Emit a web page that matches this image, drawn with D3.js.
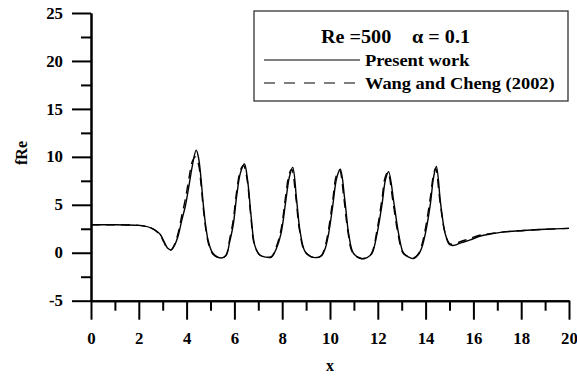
<!DOCTYPE html>
<html>
<head>
<meta charset="utf-8">
<script src="https://cdn.jsdelivr.net/npm/d3@7"></script>
<style>
  body { margin: 0; background: #fff; }
  text { font-family: "Liberation Serif", "Times New Roman", serif; font-weight: bold; fill: #000; }
  .axis path, .axis line { stroke: #000; stroke-width: 2; }
</style>
</head>
<body>
<div id="chart"></div>
<script>
// x positions and fRe values
const presentX = [0, 1.0, 1.5, 2.0, 2.3, 2.5, 2.7, 2.9, 3.05, 3.2, 3.35, 3.5, 3.65, 3.8, 3.95, 4.1, 4.25, 4.4, 4.5, 4.6, 4.7, 4.8, 4.9, 5.05, 5.2, 5.45, 5.65, 5.8, 5.95, 6.1, 6.25, 6.42, 6.55, 6.7, 6.85, 7.05, 7.3, 7.55, 7.75, 7.95, 8.15, 8.3, 8.44, 8.6, 8.75, 8.95, 9.2, 9.45, 9.65, 9.8, 9.95, 10.12, 10.28, 10.43, 10.62, 10.78, 10.98, 11.3, 11.55, 11.75, 11.97, 12.18, 12.32, 12.45, 12.68, 12.87, 13.08, 13.3, 13.5, 13.7, 13.85, 13.99, 14.2, 14.33, 14.45, 14.63, 14.82, 15.0, 15.15, 15.5, 15.87, 16.3, 16.7, 17.2, 18.1, 19.0, 20.0];
const presentY = [2.92, 2.92, 2.9, 2.85, 2.75, 2.6, 2.35, 1.9, 1.2, 0.5, 0.3, 0.8, 1.8, 3.4, 4.9, 7.0, 9.2, 10.7, 9.9, 7.8, 5.0, 2.8, 1.3, 0.15, -0.3, -0.55, -0.3, 1.1, 2.9, 6.0, 8.3, 9.25, 7.6, 3.8, 0.8, -0.2, -0.45, -0.45, 0.4, 2.0, 5.4, 7.9, 8.9, 5.6, 2.2, 0.15, -0.4, -0.5, -0.3, 0.45, 2.1, 5.0, 7.8, 8.7, 5.5, 2.0, -0.05, -0.6, -0.5, -0.1, 2.0, 5.1, 7.6, 8.45, 5.1, 2.0, -0.05, -0.45, -0.6, -0.2, 0.6, 2.0, 5.1, 7.8, 9.0, 5.1, 2.0, 0.85, 0.75, 1.05, 1.35, 1.75, 1.95, 2.15, 2.32, 2.45, 2.54];

const wangX = [0, 1.0, 1.5, 2.0, 2.3, 2.5, 2.7, 2.9, 3.05, 3.2, 3.35, 3.5, 3.65, 3.8, 3.95, 4.1, 4.25, 4.37, 4.5, 4.6, 4.7, 4.8, 4.9, 5.05, 5.2, 5.45, 5.65, 5.8, 5.95, 6.1, 6.25, 6.38, 6.52, 6.68, 6.83, 7.05, 7.3, 7.55, 7.75, 7.95, 8.15, 8.28, 8.4, 8.57, 8.72, 8.93, 9.2, 9.45, 9.65, 9.8, 9.95, 10.12, 10.26, 10.4, 10.58, 10.75, 10.95, 11.3, 11.55, 11.75, 11.97, 12.18, 12.3, 12.42, 12.63, 12.83, 13.05, 13.3, 13.5, 13.7, 13.85, 13.99, 14.2, 14.32, 14.42, 14.6, 14.8, 15.0, 15.15, 15.5, 15.87, 16.3, 16.7, 17.2, 18.1, 19.0, 20.0];
const wangY = [2.92, 2.92, 2.9, 2.85, 2.75, 2.6, 2.3, 1.8, 1.1, 0.45, 0.3, 0.9, 2.1, 3.9, 5.6, 7.8, 9.6, 10.0, 9.2, 7.2, 4.6, 2.5, 1.1, 0.05, -0.35, -0.55, -0.25, 1.4, 3.4, 6.5, 8.6, 9.1, 7.8, 4.0, 0.9, -0.2, -0.45, -0.4, 0.6, 2.4, 6.0, 8.1, 8.7, 5.8, 2.4, 0.2, -0.4, -0.5, -0.25, 0.7, 2.6, 5.6, 8.0, 8.6, 5.7, 2.2, 0.0, -0.6, -0.5, 0.0, 2.4, 5.7, 7.8, 8.4, 5.4, 2.2, 0.0, -0.45, -0.55, -0.1, 0.9, 2.5, 5.8, 8.0, 8.8, 5.4, 2.2, 0.95, 0.9, 1.2, 1.5, 1.85, 2.0, 2.15, 2.32, 2.45, 2.54];

const yMajor = [-5, 0, 5, 10, 15, 20, 25];
const yMinor = [-2.5, 2.5, 7.5, 12.5, 17.5, 22.5];
const xMajor = [0, 2, 4, 6, 8, 10, 12, 14, 16, 18, 20];
const xMinor = [1, 3, 5, 7, 9, 11, 13, 15, 17, 19];

const width = 577, height = 376;
const margin = { top: 13, right: 8, bottom: 75.3, left: 91 };

const svg = d3.select('#chart').append('svg')
  .attr('width', width)
  .attr('height', height);

const x = d3.scaleLinear().domain([0, 20]).range([margin.left, width - margin.right]);
const y = d3.scaleLinear().domain([-5, 25]).range([height - margin.bottom, margin.top]);

// stretch text sideways a little, the source picture is wider than tall
function stretch(sel, k) {
  sel.each(function () {
    const w = this.getComputedTextLength();
    d3.select(this).attr('textLength', w * k).attr('lengthAdjust', 'spacingAndGlyphs');
  });
}

// minor ticks first
svg.append('g').attr('class', 'axis')
  .attr('transform', `translate(${margin.left},0)`)
  .call(d3.axisLeft(y).tickValues(yMinor).tickSize(10).tickSizeOuter(0).tickFormat(''));
svg.append('g').attr('class', 'axis')
  .attr('transform', `translate(0,${y(-5)})`)
  .call(d3.axisBottom(x).tickValues(xMinor).tickSize(10).tickSizeOuter(0).tickFormat(''));

const yAxis = svg.append('g').attr('class', 'axis')
  .attr('transform', `translate(${margin.left},0)`)
  .call(d3.axisLeft(y).tickValues(yMajor).tickSize(19).tickSizeOuter(0).tickPadding(9)
    .tickFormat(d => String(d)));
const xAxis = svg.append('g').attr('class', 'axis')
  .attr('transform', `translate(0,${y(-5)})`)
  .call(d3.axisBottom(x).tickValues(xMajor).tickSize(19).tickSizeOuter(0).tickPadding(13)
    .tickFormat(d => String(d)));

svg.selectAll('.axis text')
  .attr('font-size', 16)
  .style('font-family', '"Liberation Serif", serif')
  .style('font-weight', 'bold');
stretch(svg.selectAll('.axis text'), 1.05);

// axis titles
svg.append('text')
  .attr('x', (x(0) + x(20)) / 2)
  .attr('y', 371)
  .attr('text-anchor', 'middle')
  .attr('font-size', 16)
  .text('x');

svg.append('text')
  .attr('transform', `translate(27,${y(10.4)}) rotate(-90)`)
  .attr('text-anchor', 'middle')
  .attr('font-size', 16)
  .text('fRe');

const line = d3.line()
  .x(d => x(d[0]))
  .y(d => y(d[1]))
  .curve(d3.curveCatmullRom.alpha(0.5));

svg.append('path')
  .datum(wangX.map((v, i) => [v, wangY[i]]))
  .attr('fill', 'none')
  .attr('stroke', '#000')
  .attr('stroke-width', 1.4)
  .attr('stroke-dasharray', '9,6')
  .attr('d', line);

svg.append('path')
  .datum(presentX.map((v, i) => [v, presentY[i]]))
  .attr('fill', 'none')
  .attr('stroke', '#000')
  .attr('stroke-width', 1.4)
  .attr('d', line);

// legend
const legend = svg.append('g');
legend.append('rect')
  .attr('x', 254).attr('y', 11)
  .attr('width', 314).attr('height', 90)
  .attr('fill', '#fff')
  .attr('stroke', '#333')
  .attr('stroke-width', 1.3);

const title1 = legend.append('text').attr('x', 321).attr('y', 43).attr('font-size', 18).text('Re =500');
const title2 = legend.append('text').attr('x', 412).attr('y', 43).attr('font-size', 18).text('α = 0.1');
stretch(title1, 1.12);
stretch(title2, 1.12);

legend.append('line')
  .attr('x1', 264).attr('x2', 360).attr('y1', 60).attr('y2', 60)
  .attr('stroke', '#000').attr('stroke-width', 1.2);
legend.append('line')
  .attr('x1', 264).attr('x2', 360).attr('y1', 83).attr('y2', 83)
  .attr('stroke', '#000').attr('stroke-width', 1.2)
  .attr('stroke-dasharray', '11,9');

const lab1 = legend.append('text').attr('x', 365).attr('y', 65.5).attr('font-size', 16).text('Present work');
const lab2 = legend.append('text').attr('x', 365).attr('y', 89).attr('font-size', 16).text('Wang and Cheng (2002)');
stretch(lab1, 1.15);
stretch(lab2, 1.15);
</script>
</body>
</html>
